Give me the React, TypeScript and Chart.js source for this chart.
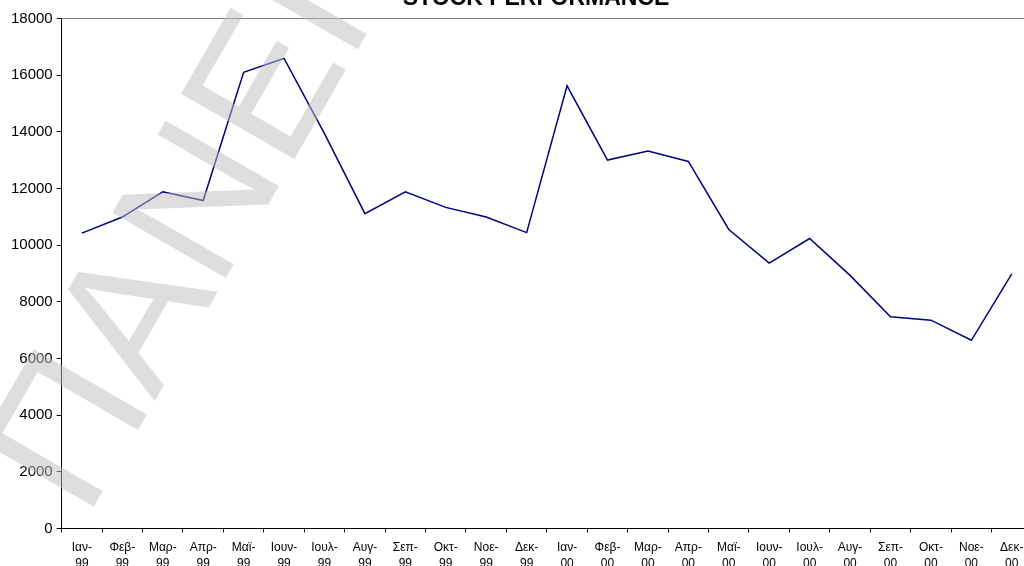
import React, { useEffect, useRef } from 'react';
import { Chart, registerables } from 'chart.js';

Chart.register(...registerables);

const MONTHS = ['Ιαν', 'Φεβ', 'Μαρ', 'Απρ', 'Μαϊ', 'Ιουν', 'Ιουλ', 'Αυγ', 'Σεπ', 'Οκτ', 'Νοε', 'Δεκ'];
const YEARS = ['99', '00'];
const VALUES_1999 = [10420, 10990, 11880, 11570, 16100, 16590, 13930, 11110, 11880, 11330, 10990, 10440];
const VALUES_2000 = [15620, 13000, 13320, 12950, 10550, 9360, 10230, 8930, 7470, 7350, 6640, 8980];
const Y_MIN = 0;
const Y_MAX = 18000;
const Y_STEP = 2000;
const TITLE = 'STOCK PERFORMANCE';
const WATERMARK = 'ΠΑΝΕΠΙΣΤΗΜΙΟ';

const OFFSET_TOP = 20;
const CANVAS_W = 1040;
const CANVAS_H = 600;
const PLOT_TOP = 18.4;
const PLOT_BOTTOM = 528.4;
const PLOT_LEFT = 61.7;
const PLOT_RIGHT = 1032;
const FONT = '"Liberation Sans", Arial, sans-serif';

const titlePlugin = {
  id: 'pageTitle',
  afterDraw(chart: any) {
    const ctx = chart.ctx;
    ctx.save();
    ctx.font = 'bold 23px ' + FONT;
    ctx.fillStyle = '#000';
    ctx.textAlign = 'center';
    ctx.textBaseline = 'alphabetic';
    ctx.fillText(TITLE, 536, 5 + OFFSET_TOP);
    ctx.restore();
  },
};

const watermarkPlugin = {
  id: 'watermark',
  afterDraw(chart: any) {
    const ctx = chart.ctx;
    ctx.save();
    ctx.translate(86, 520 + OFFSET_TOP);
    ctx.rotate((-60 * Math.PI) / 180);
    ctx.font = '190px ' + FONT;
    ctx.fillStyle = 'rgba(190,190,190,0.5)';
    ctx.textBaseline = 'alphabetic';
    ctx.fillText(WATERMARK, 0, 0);
    ctx.restore();
  },
};

export default function App() {
  const ref = useRef<HTMLCanvasElement | null>(null);

  useEffect(() => {
    if (!ref.current) return;
    const labels: string[][] = [];
    YEARS.forEach((y) => MONTHS.forEach((m) => labels.push([m + '-', y])));
    const data = [...VALUES_1999, ...VALUES_2000];

    const chart = new Chart(ref.current, {
      type: 'line',
      data: {
        labels,
        datasets: [
          {
            data,
            borderColor: '#000080',
            borderWidth: 1.5,
            pointRadius: 0,
            tension: 0,
            fill: false,
          },
        ],
      },
      options: {
        animation: false,
        responsive: false,
        devicePixelRatio: 1,
        layout: {
          padding: { left: 0, right: CANVAS_W - PLOT_RIGHT, top: PLOT_TOP + OFFSET_TOP, bottom: 0 },
        },
        plugins: {
          legend: { display: false },
          tooltip: { enabled: false },
          title: { display: false },
        },
        scales: {
          x: {
            type: 'category',
            offset: true,
            afterFit(scale: any) {
              scale.height = CANVAS_H - (PLOT_BOTTOM + OFFSET_TOP);
            },
            grid: {
              display: true,
              offset: true,
              drawOnChartArea: false,
              color: 'rgba(0,0,0,0)',
              tickColor: '#000',
              tickLength: 4,
            },
            border: { display: true, color: '#000', width: 1 },
            ticks: {
              color: '#000',
              font: { family: FONT, size: 12, lineHeight: 1.35 },
              padding: 7,
              maxRotation: 0,
              minRotation: 0,
              autoSkip: false,
            },
          },
          y: {
            min: Y_MIN,
            max: Y_MAX,
            afterFit(scale: any) {
              scale.width = PLOT_LEFT;
            },
            grid: {
              display: true,
              color: (c: any) => (c.tick && c.tick.value === Y_MAX ? '#808080' : 'rgba(0,0,0,0)'),
              tickColor: '#000',
              tickLength: 5,
            },
            border: { display: true, color: '#000', width: 1 },
            ticks: {
              stepSize: Y_STEP,
              color: '#000',
              font: { family: FONT, size: 15 },
              padding: 4,
              callback: (v: any) => String(v),
            },
          },
        },
      },
      plugins: [titlePlugin, watermarkPlugin],
    } as any);

    return () => chart.destroy();
  }, []);

  return (
    <div
      style={{
        position: 'fixed',
        left: 0,
        top: 0,
        width: 1024,
        height: 566,
        overflow: 'hidden',
        background: '#fff',
      }}
    >
      <div style={{ position: 'absolute', left: 0, top: -OFFSET_TOP, width: CANVAS_W, height: CANVAS_H }}>
        <canvas ref={ref} width={CANVAS_W} height={CANVAS_H} style={{ width: CANVAS_W, height: CANVAS_H, display: 'block' }} />
      </div>
    </div>
  );
}
